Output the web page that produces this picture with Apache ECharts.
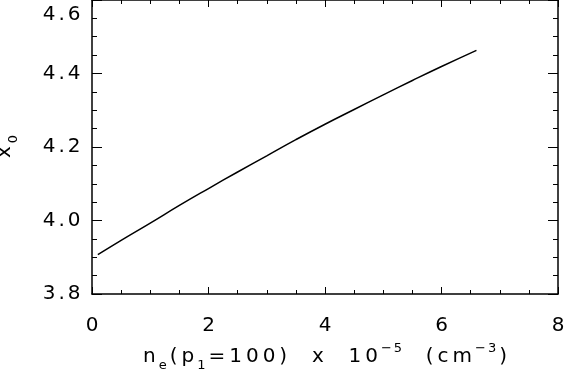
<!DOCTYPE html>
<html>
<head>
<meta charset="utf-8">
<script src="https://cdn.jsdelivr.net/npm/echarts@6/dist/echarts.min.js"></script>
<style>html,body{margin:0;padding:0;background:#fff}#c{width:565px;height:370px}</style>
</head>
<body>
<div id="c"></div>
<script>
// Data
var neValues = [0.1, 0.5, 1.0, 1.5, 2.0, 2.5, 3.0, 3.5, 4.0, 4.5, 5.0, 5.5, 6.0, 6.6];
var x0Values = [3.907, 3.946, 3.993, 4.041, 4.087, 4.132, 4.176, 4.220, 4.262, 4.302, 4.342, 4.381, 4.419, 4.463];
var xTicks = [0, 2, 4, 6, 8];
var yTicks = [3.8, 4.0, 4.2, 4.4, 4.6];
var xMinorStep = 0.5;
var yMinorStep = 0.05;

var FONT = 'DejaVu Sans';
var points = neValues.map(function (v, i) { return [v, x0Values[i]]; });

function spread(str, style) {
  var out = '';
  for (var i = 0; i < str.length; i++) {
    var ch = str[i];
    if (ch === ' ') { out += '{' + style + 'sp| }'; continue; }
    out += '{' + style + '|' + ch + '}';
  }
  return out;
}

var mainRich = {
  n: {fontFamily: FONT, fontSize: 20, color: '#000', lineHeight: 30, padding: [0, 2, 0, 2]},
  nsp: {fontFamily: FONT, fontSize: 20, color: '#000', lineHeight: 30, padding: [0, 2, 0, 2]},
  sub: {fontFamily: FONT, fontSize: 13, color: '#000', lineHeight: 14, verticalAlign: 'bottom', padding: [0, 1, 0, 1]},
  subsp: {fontFamily: FONT, fontSize: 13, color: '#000', lineHeight: 14, verticalAlign: 'bottom'},
  sup: {fontFamily: FONT, fontSize: 13, color: '#000', lineHeight: 14, verticalAlign: 'top', padding: [0, 1, 0, 1]},
  supsp: {fontFamily: FONT, fontSize: 13, color: '#000', lineHeight: 14, verticalAlign: 'top'}
};

var xName = spread('n', 'n') + spread('e', 'sub') + spread('(p', 'n') + spread('1', 'sub') +
            spread('=100)  x  10', 'n') + spread('−5', 'sup') + spread('  (cm', 'n') +
            spread('−3', 'sup') + spread(')', 'n');
var yName = spread('x', 'n') + spread('0', 'sub');

var tickRich = {
  t: {fontFamily: FONT, fontSize: 20, color: '#000', padding: [0, 1.5, 0, 1.5]},
  tsp: {fontFamily: FONT, fontSize: 20, color: '#000'},
  top: {fontFamily: FONT, fontSize: 20, color: '#000', padding: [30, 1.5, 0, 1.5]},
  topsp: {fontFamily: FONT, fontSize: 20, color: '#000'}
};

var xMin = xTicks[0], xMax = xTicks[xTicks.length - 1];
var yMin = yTicks[0], yMax = yTicks[yTicks.length - 1];

function tickAxis(pos, min, max, interval, len, line) {
  return {
    type: 'value', min: min, max: max, interval: interval, position: pos, offset: 0,
    axisLine: {show: true, onZero: false, lineStyle: {color: line ? '#000' : 'rgba(0,0,0,0)', width: 1.5}},
    axisTick: {show: true, inside: true, length: len, lineStyle: {color: '#000', width: 1}},
    splitLine: {show: false},
    axisLabel: {show: false}
  };
}

var chart = echarts.init(document.getElementById('c'), null, {renderer: 'canvas'});
var xMainBottom = tickAxis('bottom', xMin, xMax, 2, 7, true);
xMainBottom.axisLabel = {
  show: true, margin: 22, color: '#000', fontFamily: FONT, fontSize: 20,
  formatter: function (v) { return spread(String(v), 't'); },
  rich: tickRich
};
xMainBottom.name = xName;
xMainBottom.nameLocation = 'middle';
xMainBottom.nameGap = 48;
xMainBottom.nameTextStyle = {color: '#000', fontFamily: FONT, fontSize: 20, rich: mainRich};

var yMainLeft = tickAxis('left', yMin, yMax, 0.2, 10, true);
yMainLeft.axisLabel = {
  show: true, margin: 10, color: '#000', fontFamily: FONT, fontSize: 20,
  formatter: function (v) {
    var s = v.toFixed(1);
    if (Math.abs(v - yMax) < 1e-9) return spread(s, 'top');
    return spread(s, 't');
  },
  rich: tickRich
};
yMainLeft.name = yName;
yMainLeft.nameLocation = 'middle';
yMainLeft.nameGap = 72;
yMainLeft.nameTextStyle = {color: '#000', fontFamily: FONT, fontSize: 20, rich: mainRich};

chart.setOption({
  animation: false,
  backgroundColor: '#fff',
  grid: {left: 92, right: 7, top: 0, bottom: 76, containLabel: false, outerBoundsMode: 'none'},
  xAxis: [
    xMainBottom,
    tickAxis('top', xMin, xMax, 2, 7, true),
    tickAxis('bottom', xMin, xMax, xMinorStep, 4, false),
    tickAxis('top', xMin, xMax, xMinorStep, 4, false)
  ],
  yAxis: [
    yMainLeft,
    tickAxis('right', yMin, yMax, 0.2, 10, true),
    tickAxis('left', yMin, yMax, yMinorStep, 5, false),
    tickAxis('right', yMin, yMax, yMinorStep, 5, false)
  ],
  series: [{
    type: 'line', xAxisIndex: 0, yAxisIndex: 0,
    data: points, showSymbol: false, smooth: true,
    lineStyle: {color: '#000', width: 1.5}
  }]
});
</script>
</body>
</html>
